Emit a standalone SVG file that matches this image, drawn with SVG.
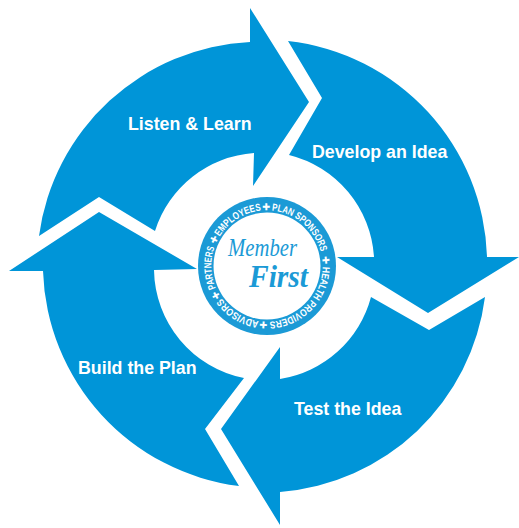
<svg xmlns="http://www.w3.org/2000/svg" xmlns:xlink="http://www.w3.org/1999/xlink" width="519" height="528" viewBox="0 0 519 528">
<style>
.arrow{fill:#0095d8}
.label{font-family:"Liberation Sans",Arial,sans-serif;font-weight:700;font-size:17.8px;fill:#fff}
.ring{font-family:"Liberation Sans",Arial,sans-serif;font-weight:700;font-size:10.2px;fill:#fff}
.plus{font-family:"DejaVu Sans",sans-serif;font-size:9.5px;fill:#fff;text-anchor:middle}
.script{font-family:"Liberation Serif",serif;font-style:italic;fill:#1b9ad6}
</style>
<defs>
<path id="ringPath" d="M267,210.3 A55.7,55.7 0 1 1 266.9,210.3 A55.7,55.7 0 0 1 322.7,266"/>
</defs>
<rect width="519" height="528" fill="#fff"/>
<g id="connectors"></g>
<g id="listen-learn">
<path class="arrow" d="M250,8 L309,102 L253,186 L254,153 A112,112 0 0 0 155,231 L99,197 L39,236 A224,224 0 0 1 250,42 Z"/>
<text class="label" x="128" y="130">Listen &amp; Learn</text>
</g>
<g id="develop-idea">
<path class="arrow" d="M288,41 L322,98 L289,155 A112,112 0 0 1 374,257 L337,257 L428,313 L519,257 L487,257 A224,224 0 0 0 288,41 Z"/>
<text class="label" x="312" y="158">Develop an Idea</text>
</g>
<g id="test-idea">
<path class="arrow" d="M485,297 L429,330 L371,297 A112,112 0 0 1 280,379 L280,347 L221,429 L280,525 L280,492 A224,224 0 0 0 485,297 Z"/>
<text class="label" x="294" y="415">Test the Idea</text>
</g>
<g id="build-plan">
<path class="arrow" d="M239,486 L205,429 L244,378 A112,112 0 0 1 154,270 L197,269 L99,212 L9,271 L43,271 A224,224 0 0 0 239,486 Z"/>
<text class="label" x="78" y="374">Build the Plan</text>
</g>
<g id="member-first">
<circle cx="267" cy="266" r="69" fill="#1b9ad6"/>
<circle cx="267" cy="266" r="53.5" fill="#fff"/>
<text class="ring"><textPath xlink:href="#ringPath" href="#ringPath" startOffset="239.1" textLength="41.8" lengthAdjust="spacingAndGlyphs">PARTNERS</textPath></text>
<text class="plus"><textPath xlink:href="#ringPath" href="#ringPath" startOffset="287.7">✚</textPath></text>
<text class="ring"><textPath xlink:href="#ringPath" href="#ringPath" startOffset="292.6" textLength="50.5" lengthAdjust="spacingAndGlyphs">EMPLOYEES</textPath></text>
<text class="plus"><textPath xlink:href="#ringPath" href="#ringPath" startOffset="348.5">✚</textPath></text>
<text class="ring"><textPath xlink:href="#ringPath" href="#ringPath" startOffset="4.9" textLength="68" lengthAdjust="spacingAndGlyphs">PLAN SPONSORS</textPath></text>
<text class="plus"><textPath xlink:href="#ringPath" href="#ringPath" startOffset="81.6">✚</textPath></text>
<text class="ring"><textPath xlink:href="#ringPath" href="#ringPath" startOffset="88" textLength="84" lengthAdjust="spacingAndGlyphs">HEALTH PROVIDERS</textPath></text>
<text class="plus"><textPath xlink:href="#ringPath" href="#ringPath" startOffset="177.9">✚</textPath></text>
<text class="ring"><textPath xlink:href="#ringPath" href="#ringPath" startOffset="182.7" textLength="44.7" lengthAdjust="spacingAndGlyphs">ADVISORS</textPath></text>
<text class="plus"><textPath xlink:href="#ringPath" href="#ringPath" startOffset="232.8">✚</textPath></text>
<text class="script" x="228" y="256" font-size="25" font-weight="400" textLength="69" lengthAdjust="spacingAndGlyphs">Member</text>
<text class="script" x="249" y="287" font-size="32" font-weight="700" textLength="59" lengthAdjust="spacingAndGlyphs">First</text>
</g>
</svg>
